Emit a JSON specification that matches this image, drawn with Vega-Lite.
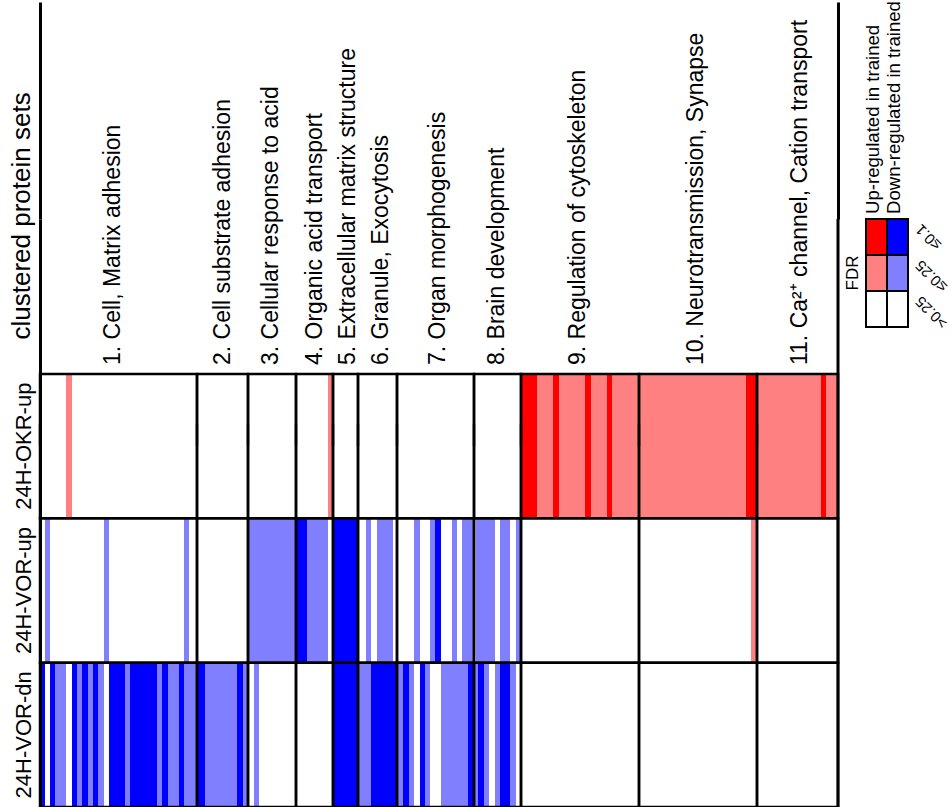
{
  "$schema": "https://vega.github.io/schema/vega-lite/v6.json",
  "background": "white",
  "padding": {"left": 8, "top": 0, "right": 0, "bottom": 0},
  "spacing": 4,
  "config": {"font": "Liberation Sans", "view": {"stroke": null}},
  "datasets": {
    "stripes": [
      {"row": "24H-OKR-up", "start": 26, "end": 32, "level": "Up ≤0.25"},
      {"row": "24H-OKR-up", "start": 288, "end": 292, "level": "Up ≤0.25"},
      {"row": "24H-OKR-up", "start": 481, "end": 497, "level": "Up ≤0.1"},
      {"row": "24H-OKR-up", "start": 497, "end": 513, "level": "Up ≤0.25"},
      {"row": "24H-OKR-up", "start": 513, "end": 519, "level": "Up ≤0.1"},
      {"row": "24H-OKR-up", "start": 519, "end": 545, "level": "Up ≤0.25"},
      {"row": "24H-OKR-up", "start": 545, "end": 551, "level": "Up ≤0.1"},
      {"row": "24H-OKR-up", "start": 551, "end": 567, "level": "Up ≤0.25"},
      {"row": "24H-OKR-up", "start": 567, "end": 572, "level": "Up ≤0.1"},
      {"row": "24H-OKR-up", "start": 572, "end": 599, "level": "Up ≤0.25"},
      {"row": "24H-OKR-up", "start": 599, "end": 706, "level": "Up ≤0.25"},
      {"row": "24H-OKR-up", "start": 706, "end": 717, "level": "Up ≤0.1"},
      {"row": "24H-OKR-up", "start": 717, "end": 781, "level": "Up ≤0.25"},
      {"row": "24H-OKR-up", "start": 781, "end": 786, "level": "Up ≤0.1"},
      {"row": "24H-OKR-up", "start": 786, "end": 798, "level": "Up ≤0.25"},

      {"row": "24H-VOR-up", "start": 5, "end": 10, "level": "Down ≤0.25"},
      {"row": "24H-VOR-up", "start": 64, "end": 69, "level": "Down ≤0.25"},
      {"row": "24H-VOR-up", "start": 144, "end": 149, "level": "Down ≤0.25"},
      {"row": "24H-VOR-up", "start": 208, "end": 256, "level": "Down ≤0.25"},
      {"row": "24H-VOR-up", "start": 256, "end": 267, "level": "Down ≤0.1"},
      {"row": "24H-VOR-up", "start": 267, "end": 288, "level": "Down ≤0.25"},
      {"row": "24H-VOR-up", "start": 293, "end": 318, "level": "Down ≤0.1"},
      {"row": "24H-VOR-up", "start": 326, "end": 331, "level": "Down ≤0.25"},
      {"row": "24H-VOR-up", "start": 337, "end": 353, "level": "Down ≤0.25"},
      {"row": "24H-VOR-up", "start": 374, "end": 380, "level": "Down ≤0.25"},
      {"row": "24H-VOR-up", "start": 390, "end": 395, "level": "Down ≤0.25"},
      {"row": "24H-VOR-up", "start": 395, "end": 401, "level": "Down ≤0.1"},
      {"row": "24H-VOR-up", "start": 412, "end": 417, "level": "Down ≤0.25"},
      {"row": "24H-VOR-up", "start": 422, "end": 434, "level": "Down ≤0.25"},
      {"row": "24H-VOR-up", "start": 436, "end": 455, "level": "Down ≤0.25"},
      {"row": "24H-VOR-up", "start": 460, "end": 470, "level": "Down ≤0.25"},
      {"row": "24H-VOR-up", "start": 476, "end": 481, "level": "Down ≤0.25"},
      {"row": "24H-VOR-up", "start": 711, "end": 717, "level": "Up ≤0.25"},

      {"row": "24H-VOR-dn", "start": 0, "end": 5, "level": "Down ≤0.1"},
      {"row": "24H-VOR-dn", "start": 10, "end": 15, "level": "Down ≤0.1"},
      {"row": "24H-VOR-dn", "start": 15, "end": 26, "level": "Down ≤0.25"},
      {"row": "24H-VOR-dn", "start": 32, "end": 37, "level": "Down ≤0.1"},
      {"row": "24H-VOR-dn", "start": 37, "end": 42, "level": "Down ≤0.25"},
      {"row": "24H-VOR-dn", "start": 42, "end": 48, "level": "Down ≤0.1"},
      {"row": "24H-VOR-dn", "start": 48, "end": 53, "level": "Down ≤0.25"},
      {"row": "24H-VOR-dn", "start": 53, "end": 58, "level": "Down ≤0.1"},
      {"row": "24H-VOR-dn", "start": 58, "end": 64, "level": "Down ≤0.25"},
      {"row": "24H-VOR-dn", "start": 69, "end": 85, "level": "Down ≤0.1"},
      {"row": "24H-VOR-dn", "start": 85, "end": 90, "level": "Down ≤0.25"},
      {"row": "24H-VOR-dn", "start": 90, "end": 117, "level": "Down ≤0.1"},
      {"row": "24H-VOR-dn", "start": 117, "end": 122, "level": "Down ≤0.25"},
      {"row": "24H-VOR-dn", "start": 122, "end": 128, "level": "Down ≤0.1"},
      {"row": "24H-VOR-dn", "start": 128, "end": 139, "level": "Down ≤0.25"},
      {"row": "24H-VOR-dn", "start": 139, "end": 144, "level": "Down ≤0.1"},
      {"row": "24H-VOR-dn", "start": 144, "end": 157, "level": "Down ≤0.25"},
      {"row": "24H-VOR-dn", "start": 157, "end": 165, "level": "Down ≤0.1"},
      {"row": "24H-VOR-dn", "start": 165, "end": 197, "level": "Down ≤0.25"},
      {"row": "24H-VOR-dn", "start": 197, "end": 203, "level": "Down ≤0.1"},
      {"row": "24H-VOR-dn", "start": 203, "end": 208, "level": "Down ≤0.25"},
      {"row": "24H-VOR-dn", "start": 214, "end": 219, "level": "Down ≤0.25"},
      {"row": "24H-VOR-dn", "start": 293, "end": 318, "level": "Down ≤0.1"},
      {"row": "24H-VOR-dn", "start": 318, "end": 331, "level": "Down ≤0.25"},
      {"row": "24H-VOR-dn", "start": 331, "end": 357, "level": "Down ≤0.1"},
      {"row": "24H-VOR-dn", "start": 357, "end": 363, "level": "Down ≤0.25"},
      {"row": "24H-VOR-dn", "start": 363, "end": 369, "level": "Down ≤0.1"},
      {"row": "24H-VOR-dn", "start": 369, "end": 374, "level": "Down ≤0.25"},
      {"row": "24H-VOR-dn", "start": 380, "end": 385, "level": "Down ≤0.1"},
      {"row": "24H-VOR-dn", "start": 385, "end": 390, "level": "Down ≤0.25"},
      {"row": "24H-VOR-dn", "start": 401, "end": 428, "level": "Down ≤0.25"},
      {"row": "24H-VOR-dn", "start": 428, "end": 434, "level": "Down ≤0.1"},
      {"row": "24H-VOR-dn", "start": 434, "end": 438, "level": "Down ≤0.25"},
      {"row": "24H-VOR-dn", "start": 438, "end": 444, "level": "Down ≤0.1"},
      {"row": "24H-VOR-dn", "start": 444, "end": 449, "level": "Down ≤0.25"},
      {"row": "24H-VOR-dn", "start": 455, "end": 460, "level": "Down ≤0.25"},
      {"row": "24H-VOR-dn", "start": 460, "end": 470, "level": "Down ≤0.1"},
      {"row": "24H-VOR-dn", "start": 470, "end": 476, "level": "Down ≤0.25"}
    ],
    "clusters": [
      {"name": "1. Cell, Matrix adhesion", "start": 0, "end": 157, "mid": 73, "rows": ["24H-OKR-up", "24H-VOR-up", "24H-VOR-dn"]},
      {"name": "2. Cell substrate adhesion", "start": 157, "end": 208, "mid": 183, "rows": ["24H-OKR-up", "24H-VOR-up", "24H-VOR-dn"]},
      {"name": "3. Cellular response to acid", "start": 208, "end": 256, "mid": 231, "rows": ["24H-OKR-up", "24H-VOR-up", "24H-VOR-dn"]},
      {"name": "4. Organic acid transport", "start": 256, "end": 293, "mid": 275, "rows": ["24H-OKR-up", "24H-VOR-up", "24H-VOR-dn"]},
      {"name": "5. Extracellular matrix structure", "start": 293, "end": 318, "mid": 308, "rows": ["24H-OKR-up", "24H-VOR-up", "24H-VOR-dn"]},
      {"name": "6. Granule, Exocytosis", "start": 318, "end": 357, "mid": 341, "rows": ["24H-OKR-up", "24H-VOR-up", "24H-VOR-dn"]},
      {"name": "7. Organ morphogenesis", "start": 357, "end": 434, "mid": 398, "rows": ["24H-OKR-up", "24H-VOR-up", "24H-VOR-dn"]},
      {"name": "8. Brain development", "start": 434, "end": 481, "mid": 457, "rows": ["24H-OKR-up", "24H-VOR-up", "24H-VOR-dn"]},
      {"name": "9. Regulation of cytoskeleton", "start": 481, "end": 599, "mid": 538, "rows": ["24H-OKR-up", "24H-VOR-up", "24H-VOR-dn"]},
      {"name": "10. Neurotransmission, Synapse", "start": 599, "end": 717, "mid": 656, "rows": ["24H-OKR-up", "24H-VOR-up", "24H-VOR-dn"]},
      {"name": "11. Ca²⁺ channel, Cation transport", "start": 717, "end": 798, "mid": 760, "rows": ["24H-OKR-up", "24H-VOR-up", "24H-VOR-dn"]}
    ],
    "legendCells": [
      {"dir": "Up", "fdr": "≤0.1", "level": "Up ≤0.1"},
      {"dir": "Down", "fdr": "≤0.1", "level": "Down ≤0.1"},
      {"dir": "Up", "fdr": "≤0.25", "level": "Up ≤0.25"},
      {"dir": "Down", "fdr": "≤0.25", "level": "Down ≤0.25"},
      {"dir": "Up", "fdr": ">0.25", "level": "Up >0.25"},
      {"dir": "Down", "fdr": ">0.25", "level": "Down >0.25"}
    ],
    "legendDirs": [
      {"dir": "Up", "label": "Up-regulated in trained"},
      {"dir": "Down", "label": "Down-regulated in trained"}
    ],
    "legendFdr": [
      {"fdr": "≤0.1"},
      {"fdr": "≤0.25"},
      {"fdr": ">0.25"}
    ]
  },
  "hconcat": [
    {
      "width": 798,
      "height": 588,
      "layer": [
        {
          "data": {"name": "stripes"},
          "mark": {"type": "rect"},
          "encoding": {
            "x": {
              "field": "start", "type": "quantitative",
              "scale": {"domain": [0, 798], "nice": false, "zero": false},
              "axis": {"orient": "top", "values": [0, 798], "labels": false, "domain": false, "grid": false, "title": null,
                       "ticks": true, "tickSize": 217, "tickWidth": 3, "tickColor": "black"}
            },
            "x2": {"field": "end"},
            "y": {
              "field": "row", "type": "nominal",
              "scale": {"type": "band", "domain": ["24H-OKR-up", "24H-VOR-up", "24H-VOR-dn"], "paddingInner": 0, "paddingOuter": 0.537, "align": 1},
              "axis": {
                "title": "clustered protein sets", "titleFontSize": 26, "titleFontWeight": "normal", "titleColor": "black",
                "titleAngle": 270, "titleAlign": "left", "titleBaseline": "alphabetic", "titleX": -10.5, "titleY": 120,
                "labelAngle": 270, "labelAlign": "center", "labelBaseline": "alphabetic", "labelFontSize": 22, "labelColor": "black",
                "labelPadding": 10, "ticks": false, "tickSize": 0, "domain": true, "domainColor": "black", "domainWidth": 3, "grid": false
              }
            },
            "color": {
              "field": "level", "type": "nominal",
              "scale": {"domain": ["Up ≤0.1", "Up ≤0.25", "Down ≤0.1", "Down ≤0.25"], "range": ["#ff0000", "#ff8080", "#0000ff", "#8080ff"]},
              "legend": null
            }
          }
        },
        {
          "data": {"name": "clusters"},
          "transform": [{"flatten": ["rows"], "as": ["row"]}],
          "mark": {"type": "rect", "filled": false, "color": "black", "strokeWidth": 2.5},
          "encoding": {
            "x": {"field": "start", "type": "quantitative"},
            "x2": {"field": "end"},
            "y": {"field": "row", "type": "nominal"}
          }
        },
        {
          "data": {"name": "clusters"},
          "mark": {"type": "tick", "color": "black", "thickness": 2.5, "size": 22, "yOffset": -11},
          "encoding": {
            "x": {"field": "start", "type": "quantitative"},
            "y": {"datum": "24H-OKR-up", "type": "nominal", "bandPosition": 0}
          }
        },
        {
          "data": {"name": "clusters"},
          "mark": {"type": "text", "angle": 270, "align": "left", "baseline": "middle", "fontSize": 23, "color": "black", "yOffset": -9},
          "encoding": {
            "x": {"field": "mid", "type": "quantitative"},
            "y": {"datum": "24H-OKR-up", "type": "nominal", "bandPosition": 0},
            "text": {"field": "name"}
          }
        },
        {
          "data": {"values": [{"edge": 798}]},
          "mark": {"type": "rule", "color": "black", "strokeWidth": 3},
          "encoding": {"x": {"field": "edge", "type": "quantitative"}}
        }
      ]
    },
    {
      "width": 42,
      "height": 108,
      "layer": [
        {
          "data": {"name": "legendCells"},
          "mark": {"type": "rect", "stroke": "black", "strokeWidth": 2},
          "encoding": {
            "x": {"field": "dir", "type": "nominal", "scale": {"type": "band", "domain": ["Up", "Down"], "paddingInner": 0, "paddingOuter": 0}, "axis": null},
            "y": {"field": "fdr", "type": "nominal", "scale": {"type": "band", "domain": ["≤0.1", "≤0.25", ">0.25"], "paddingInner": 0, "paddingOuter": 0}, "axis": null},
            "fill": {
              "field": "level", "type": "nominal",
              "scale": {"domain": ["Up ≤0.1", "Up ≤0.25", "Up >0.25", "Down ≤0.1", "Down ≤0.25", "Down >0.25"], "range": ["#ff0000", "#ff8080", "#ffffff", "#0000ff", "#8080ff", "#ffffff"]},
              "legend": null
            }
          }
        },
        {
          "data": {"name": "legendDirs"},
          "mark": {"type": "text", "angle": 270, "align": "left", "baseline": "alphabetic", "fontSize": 18.6, "color": "black", "xOffset": 2, "yOffset": -5},
          "encoding": {
            "x": {"field": "dir", "type": "nominal"},
            "y": {"datum": "≤0.1", "type": "nominal", "bandPosition": 0},
            "text": {"field": "label"}
          }
        },
        {
          "data": {"name": "legendFdr"},
          "mark": {"type": "text", "angle": 225, "align": "right", "baseline": "middle", "fontSize": 15, "color": "black", "xOffset": 10, "yOffset": -10},
          "encoding": {
            "x": {"datum": "Down", "type": "nominal", "bandPosition": 1},
            "y": {"field": "fdr", "type": "nominal"},
            "text": {"field": "fdr"}
          }
        },
        {
          "data": {"values": [{"t": "FDR"}]},
          "mark": {"type": "text", "angle": 270, "align": "center", "baseline": "middle", "fontSize": 17, "color": "black", "xOffset": -13},
          "encoding": {
            "x": {"datum": "Up", "type": "nominal", "bandPosition": 0},
            "y": {"datum": "≤0.25", "type": "nominal"},
            "text": {"field": "t"}
          }
        }
      ]
    }
  ]
}
